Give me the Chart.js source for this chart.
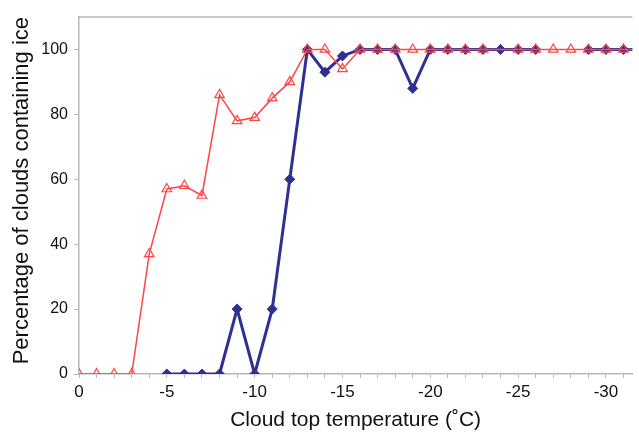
<!DOCTYPE html>
<html>
<head>
<meta charset="utf-8">
<script src="https://cdn.jsdelivr.net/npm/chart.js@4/dist/chart.umd.min.js"></script>
<style>
  html, body { margin: 0; padding: 0; background: #fff; }
  #wrap { width: 639px; height: 433px; position: relative; }
</style>
</head>
<body>
<div id="wrap"><canvas id="chart"></canvas></div>
<script>
// ============================================
// Ice in clouds vs cloud top temperature
// ============================================

// Cloud top temperature (°C), one per degree
const temps = [0, -1, -2, -3, -4, -5, -6, -7, -8, -9, -10, -11, -12, -13, -14, -15, -16,
    -17, -18, -19, -20, -21, -22, -23, -24, -25, -26, -27, -28, -29, -30, -31, -32];

// Red series (open triangles)
const redValues = [0, 0, 0, 0, 37, 57, 58, 55, 86, 78, 79, 85, 90, 100, 100, 94, 100,
    100, 100, 100, 100, 100, 100, 100, null, 100, 100, 100, 100, 100, 100, 100, 100];

// Blue series (filled diamonds)
const blueValues = [null, null, null, null, null, 0, 0, 0, 0, 20, 0, 20, 60, 100, 93, 98, 100,
    100, 100, 88, 100, 100, 100, 100, 100, 100, 100, null, null, 100, 100, 100, 100];

const xTickLabels = [0, -5, -10, -15, -20, -25, -30];
const yTickLabels = [0, 20, 40, 60, 80, 100];

const FONT = '"Liberation Sans", Arial, Helvetica, sans-serif';
const AXIS_COLOR = '#b8b8b8';

const toPoints = values => temps.map((t, i) => ({ x: t, y: values[i] }));

// top edge of the plot box
const frameTop = {
    id: 'frameTop',
    afterDraw(chart) {
        const { ctx, chartArea } = chart;
        ctx.save();
        ctx.strokeStyle = AXIS_COLOR;
        ctx.lineWidth = 1.5;
        ctx.beginPath();
        ctx.moveTo(chartArea.left, chartArea.top);
        ctx.lineTo(chartArea.right, chartArea.top);
        ctx.stroke();
        ctx.restore();
    }
};

new Chart(document.getElementById('chart').getContext('2d'), {
    type: 'line',
    data: {
        datasets: [
            {
                label: 'triangles',
                data: toPoints(redValues),
                borderColor: '#ff4545',
                borderWidth: 1.5,
                pointStyle: 'triangle',
                pointRadius: 5.5,
                pointBorderWidth: 1.2,
                pointBackgroundColor: 'rgba(255,255,255,0)',
                pointBorderColor: '#ff4545',
                spanGaps: true,
                tension: 0
            },
            {
                label: 'diamonds',
                data: toPoints(blueValues),
                borderColor: '#2e3192',
                borderWidth: 3,
                pointStyle: 'rectRot',
                pointRadius: 5,
                pointBorderWidth: 1,
                pointBackgroundColor: '#2e3192',
                pointBorderColor: '#2e3192',
                spanGaps: false,
                tension: 0
            }
        ]
    },
    options: {
        responsive: true,
        maintainAspectRatio: false,
        animation: false,
        layout: { padding: { top: 17, right: 0, left: 0, bottom: 0 } },
        plugins: {
            legend: { display: false },
            tooltip: { enabled: false }
        },
        scales: {
            x: {
                type: 'linear',
                min: -31.5,
                max: 0,
                reverse: true,
                afterFit: scale => { scale.height = 59; },
                border: { color: AXIS_COLOR, width: 1.5 },
                grid: { drawOnChartArea: false, color: AXIS_COLOR, tickLength: 4, lineWidth: 1 },
                ticks: {
                    stepSize: 1,
                    autoSkip: false,
                    includeBounds: false,
                    maxRotation: 0,
                    padding: 4,
                    color: '#111',
                    font: { family: FONT, size: 17 },
                    callback: v => xTickLabels.includes(v) ? String(v) : ''
                },
                title: {
                    display: true,
                    text: 'Cloud top temperature (˚C)',
                    color: '#111',
                    font: { family: FONT, size: 21 },
                    padding: { top: 1, bottom: 0 }
                }
            },
            y: {
                min: 0,
                max: 110,
                afterFit: scale => { scale.width = 79; },
                border: { color: AXIS_COLOR, width: 1.5 },
                grid: { drawOnChartArea: false, color: AXIS_COLOR, tickLength: 5, lineWidth: 1 },
                ticks: {
                    stepSize: 20,
                    includeBounds: false,
                    padding: 6,
                    color: '#111',
                    font: { family: FONT, size: 16 },
                    callback: v => yTickLabels.includes(v) ? String(v) : ''
                },
                title: {
                    display: true,
                    align: 'end',
                    text: 'Percentage of clouds containing ice',
                    color: '#111',
                    font: { family: FONT, size: 22 },
                    padding: { top: 9, bottom: 0 }
                }
            }
        }
    },
    plugins: [frameTop]
});
</script>
</body>
</html>
